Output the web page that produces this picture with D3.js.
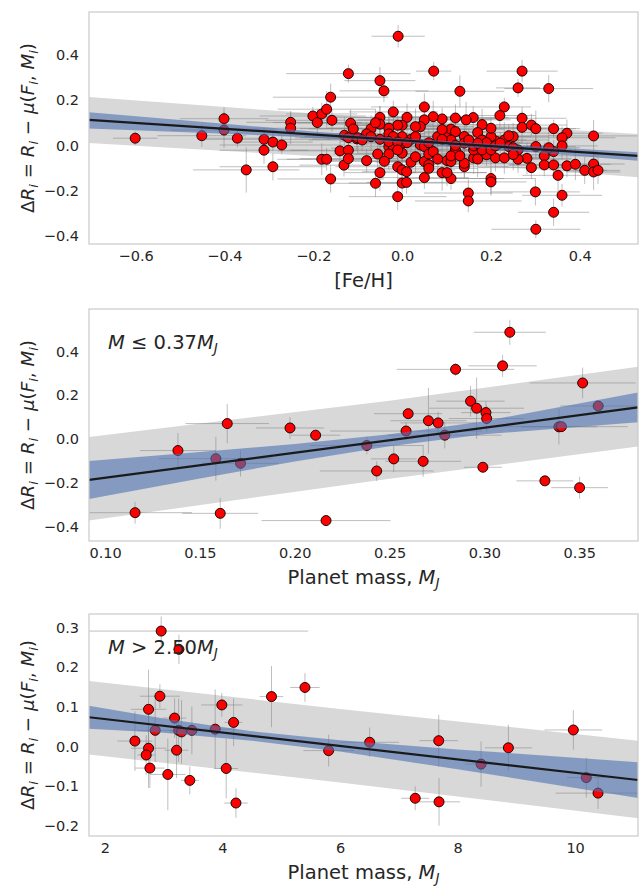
<!DOCTYPE html>
<html><head><meta charset="utf-8">
<script src="https://cdn.jsdelivr.net/npm/d3@7/dist/d3.min.js"></script>
<style>body{margin:0;background:#fff}svg{display:block;font-family:"DejaVu Sans",sans-serif}</style>
</head><body>
<script>
// ---------- Panel 1: [Fe/H] ----------
const fehX = [
-0.601,-0.451,-0.401,-0.401,-0.371,-0.351,-0.311,-0.311,-0.291,-0.291,
-0.271,-0.251,-0.251,-0.201,-0.191,-0.181,-0.170,-0.161,-0.158,-0.181,
-0.170,-0.161,-0.140,-0.131,-0.121,-0.116,-0.110,-0.130,-0.121,-0.102,
-0.121,-0.121,-0.009,0.071,-0.050,-0.041,0.130,0.270,0.261,0.330,
0.050,-0.020,0.230,0.220,0.270,0.270,0.291,0.301,0.341,0.371,
0.360,0.431,0.360,0.341,0.330,0.320,0.301,0.281,0.261,0.320,
0.341,0.371,0.390,0.411,0.431,0.431,0.441,0.291,0.351,0.300,
0.360,0.341,0.301,0.149,0.149,0.200,0.200,0.110,0.090,0.101,
0.050,-0.010,0.000,0.010,-0.060,-0.050,-0.080,-0.055,-0.010,0.000,
0.010,0.020,0.050,0.060,0.060,0.101,0.110,0.140,0.140,0.161,
0.190,0.210,0.230,0.261,0.230,0.250,0.240,0.210,0.200,0.200,
0.180,0.170,0.160,0.144,0.120,0.090,0.070,0.050,0.041,0.030,
0.011,0.000,-0.010,-0.030,-0.050,-0.050,-0.070,-0.080,-0.030,-0.030,
-0.020,0.000,0.000,0.020,0.041,0.050,0.060,0.070,0.080,0.101,
0.110,0.120,0.140,0.140,0.120,0.110,0.130,0.161,0.161,0.180,
0.180,0.190,0.170,0.150,0.110,0.090,0.030,0.000,-0.020,-0.050,
-0.070,-0.100,-0.090,-0.030,-0.010,0.011,0.060,-0.030,-0.010,0.240,
0.250,0.200,0.210,0.221,0.080,0.030,-0.040,0.120,0.170,0.090,
-0.060,0.250];
const fehY = [
0.032,0.043,0.118,0.068,0.032,-0.108,0.027,-0.021,0.015,-0.094,
0.002,0.102,0.076,0.130,0.101,0.139,0.160,0.213,0.111,-0.061,
-0.061,-0.148,-0.024,-0.087,0.317,0.098,0.073,0.045,0.034,0.029,
-0.021,-0.058,0.482,0.328,0.286,0.241,0.239,0.328,0.254,0.251,
0.170,0.148,0.170,0.132,0.120,0.080,0.090,0.074,0.074,0.054,
0.034,0.042,-0.002,-0.027,-0.010,-0.046,-0.005,-0.057,-0.061,-0.086,
-0.086,-0.090,-0.083,-0.110,-0.082,-0.117,-0.110,-0.098,-0.132,-0.205,
-0.220,-0.295,-0.370,-0.210,-0.245,-0.146,-0.161,-0.146,-0.120,-0.120,
-0.142,-0.226,-0.166,-0.163,-0.167,-0.120,-0.067,-0.038,-0.094,-0.108,
-0.116,-0.074,-0.071,-0.085,-0.101,-0.067,-0.071,-0.094,-0.079,-0.055,
-0.041,-0.055,-0.055,-0.020,0.024,0.039,0.043,0.020,0.039,0.076,
0.092,0.057,0.123,0.113,0.121,0.117,0.127,0.113,0.083,0.083,
0.124,0.089,0.089,0.076,0.124,0.094,0.074,0.051,0.051,-0.005,
-0.012,0.010,-0.034,0.027,0.002,-0.005,-0.038,-0.027,0.039,0.042,
0.072,0.061,0.039,0.010,-0.020,-0.046,-0.046,-0.020,-0.002,-0.020,
0.024,0.012,0.010,0.024,0.024,0.027,0.039,0.039,0.039,0.027,
0.039,0.034,0.024,0.017,0.015,0.012,0.012,-0.038,-0.020,-0.005,
-0.010,-0.020,-0.002,0.010,-0.060,-0.050,-0.070,0.000,-0.060,0.070,
0.100,-0.040];
const fehXErr = [
0.05,0.10,0.10,0.12,0.08,0.12,0.15,0.10,0.09,0.12,
0.14,0.10,0.16,0.12,0.10,0.08,0.11,0.13,0.15,0.10,
0.09,0.12,0.14,0.10,0.14,0.12,0.10,0.15,0.12,0.10,
0.13,0.11,0.06,0.04,0.08,0.10,0.10,0.08,0.05,0.10,
0.12,0.10,0.06,0.08,0.10,0.06,0.08,0.10,0.05,0.08,
0.12,0.10,0.08,0.10,0.07,0.12,0.09,0.10,0.12,0.08,
0.10,0.06,0.08,0.05,0.07,0.06,0.05,0.12,0.08,0.10,
0.09,0.08,0.10,0.10,0.12,0.10,0.08,0.12,0.10,0.09,
0.10,0.11,0.12,0.09,0.10,0.08,0.11,0.10,0.14,0.12,
0.10,0.08,0.12,0.10,0.11,0.13,0.09,0.10,0.12,0.08,
0.10,0.11,0.09,0.12,0.10,0.08,0.12,0.10,0.09,0.11,
0.10,0.12,0.08,0.10,0.14,0.12,0.10,0.15,0.12,0.10,
0.13,0.11,0.12,0.14,0.10,0.12,0.16,0.13,0.12,0.10,
0.14,0.12,0.10,0.11,0.13,0.10,0.12,0.09,0.11,0.10,
0.12,0.08,0.10,0.12,0.11,0.10,0.09,0.12,0.10,0.11,
0.10,0.08,0.12,0.10,0.13,0.11,0.12,0.14,0.10,0.12,
0.15,0.13,0.12,0.11,0.10,0.12,0.09,0.11,0.10,0.09,
0.10,0.08,0.11,0.09,0.12,0.10,0.13,0.11,0.09,0.12,
0.14,0.10];
const fehYErr = [
0.03,0.05,0.05,0.08,0.04,0.10,0.05,0.06,0.04,0.06,
0.04,0.05,0.07,0.04,0.06,0.05,0.08,0.06,0.05,0.07,
0.05,0.06,0.07,0.05,0.04,0.06,0.05,0.08,0.06,0.05,
0.07,0.05,0.05,0.04,0.06,0.05,0.07,0.05,0.04,0.06,
0.06,0.05,0.04,0.06,0.05,0.07,0.05,0.08,0.04,0.06,
0.05,0.07,0.06,0.05,0.08,0.06,0.05,0.07,0.06,0.05,
0.06,0.05,0.07,0.06,0.05,0.08,0.06,0.05,0.07,0.06,
0.05,0.06,0.04,0.06,0.05,0.07,0.06,0.05,0.08,0.06,
0.05,0.06,0.07,0.05,0.06,0.08,0.05,0.06,0.07,0.05,
0.06,0.05,0.07,0.06,0.05,0.06,0.08,0.05,0.06,0.07,
0.05,0.06,0.07,0.05,0.08,0.06,0.05,0.07,0.06,0.05,
0.07,0.06,0.05,0.08,0.06,0.05,0.07,0.06,0.05,0.08,
0.06,0.05,0.07,0.06,0.05,0.08,0.06,0.05,0.07,0.06,
0.05,0.07,0.06,0.05,0.08,0.06,0.05,0.07,0.06,0.05,
0.06,0.05,0.07,0.06,0.05,0.08,0.06,0.05,0.07,0.06,
0.05,0.06,0.07,0.05,0.06,0.08,0.05,0.06,0.07,0.05,
0.06,0.07,0.05,0.06,0.08,0.05,0.06,0.07,0.05,0.06,
0.05,0.06,0.07,0.05,0.06,0.07,0.05,0.06,0.08,0.05,
0.06,0.07];
const fehFitX = [-0.705, 0.531];
const fehFitY = [0.113, -0.046];
const fehBlueX = [-0.705, -0.4, -0.2, 0.0, 0.2, 0.531];
const fehBlueLo = [0.075, 0.052, 0.034, 0.012, -0.016, -0.068];
const fehBlueHi = [0.147, 0.096, 0.062, 0.032, 0.008, -0.030];
const fehGrayX = [-0.705, -0.3, 0.0, 0.3, 0.531];
const fehGrayLo = [0.011, -0.035, -0.070, -0.105, -0.140];
const fehGrayHi = [0.214, 0.155, 0.115, 0.078, 0.051];
const fehXTicks = [-0.6, -0.4, -0.2, 0.0, 0.2, 0.4];
const fehYTicks = [-0.4, -0.2, 0.0, 0.2, 0.4];

// ---------- Panel 2: low mass ----------
const lowX = [0.1158,0.1384,0.1584,0.1607,0.1644,0.1714,0.1975,0.211,0.2165,0.238,
0.2432,0.2522,0.2587,0.2598,0.2677,0.2705,0.2756,0.2791,0.2848,0.2927,
0.2959,0.2992,0.3008,0.3012,0.3096,0.3134,0.3319,0.3393,0.3406,0.3502,
0.3518,0.36];
const lowY = [-0.335,-0.052,-0.089,-0.338,0.071,-0.110,0.051,0.018,-0.371,-0.029,
-0.145,-0.090,0.037,0.116,-0.101,0.084,0.074,0.018,0.318,0.173,
0.141,-0.128,0.121,0.094,0.334,0.487,-0.190,0.056,0.057,-0.221,
0.256,0.151];
const lowXErr = [0.03,0.02,0.03,0.02,0.022,0.02,0.018,0.013,0.034,0.03,
0.03,0.012,0.04,0.018,0.02,0.02,0.02,0.03,0.031,0.018,
0.025,0.01,0.013,0.02,0.018,0.019,0.015,0.02,0.035,0.015,
0.028,0.02];
const lowYErr = [0.05,0.08,0.1,0.07,0.09,0.06,0.05,0.02,0.02,0.04,
0.045,0.06,0.04,0.02,0.07,0.15,0.05,0.06,0.03,0.07,
0.14,0.02,0.05,0.06,0.05,0.057,0.02,0.08,0.02,0.05,
0.07,0.02];
const lowFitX = [0.0915, 0.381];
const lowFitY = [-0.186, 0.145];
const lowBlueX = [0.0915, 0.15, 0.2, 0.25, 0.3, 0.381];
const lowBlueLo = [-0.273, -0.179, -0.102, -0.032, 0.022, 0.077];
const lowBlueHi = [-0.099, -0.059, -0.022, 0.022, 0.082, 0.213];
const lowGrayX = [0.0915, 0.25, 0.381];
const lowGrayLo = [-0.371, -0.180, -0.034];
const lowGrayHi = [0.010, 0.175, 0.330];
const lowXTicks = [0.10, 0.15, 0.20, 0.25, 0.30, 0.35];
const lowYTicks = [-0.4, -0.2, 0.0, 0.2, 0.4];

// ---------- Panel 3: high mass ----------
const highX = [2.958,3.26,2.936,2.743,2.511,2.743,2.703,2.766,2.856,3.071,
3.186,3.22,3.255,3.304,3.48,3.445,3.877,3.99,4.064,4.19,
4.23,4.835,5.404,5.807,6.505,7.68,7.28,7.685,8.40,8.865,
9.97,10.19,10.39];
const highY = [0.291,0.245,0.127,0.094,0.014,-0.004,-0.021,-0.054,0.041,-0.070,
0.072,-0.009,0.041,0.037,0.041,-0.085,0.044,0.105,-0.055,0.061,
-0.142,0.126,0.149,-0.010,0.011,0.015,-0.130,-0.139,-0.044,-0.003,
0.042,-0.078,-0.117];
const highXErr = [2.5,0.1,0.34,0.3,0.3,0.3,0.15,0.25,0.3,0.3,
0.2,0.2,0.15,0.2,0.25,0.15,0.35,0.35,0.2,0.15,
0.2,0.2,0.25,0.43,0.5,0.33,0.24,0.36,0.28,0.4,
0.49,0.33,0.72];
const highYErr = [0.037,0.037,0.03,0.1,0.075,0.1,0.05,0.05,0.08,0.09,
0.05,0.07,0.08,0.08,0.06,0.035,0.1,0.03,0.075,0.06,
0.037,0.077,0.036,0.04,0.037,0.065,0.03,0.06,0.057,0.058,
0.05,0.05,0.04];
const highFitX = [1.73, 11.07];
const highFitY = [0.074, -0.084];
const highBlueX = [1.73, 3, 4.5, 6, 8, 11.07];
const highBlueLo = [0.045, 0.035, 0.015, -0.012, -0.057, -0.129];
const highBlueHi = [0.103, 0.071, 0.039, 0.016, -0.007, -0.039];
const highGrayX = [1.73, 6, 11.07];
const highGrayLo = [-0.020, -0.090, -0.180];
const highGrayHi = [0.165, 0.095, 0.015];
const highXTicks = [2, 4, 6, 8, 10];
const highYTicks = [-0.2, -0.1, 0.0, 0.1, 0.2, 0.3];

// ---------- Drawing ----------
const W = 640, H = 886;
const TXT = "#262626";
const svg = d3.select("body").append("svg").attr("width", W).attr("height", H);

const yLabelParts = [["Δ","n"],["R","i"],["i","s"],[" = ","n"],["R","i"],["i","s"],[" − ","n"],
  ["μ","i"],["(","n"],["F","i"],["i","s"],[", ","n"],["M","i"],["i","s"],[")","n"]];

function mathText(g, parts, size) {
  let shifted = false;
  parts.forEach(([t, s]) => {
    const ts = g.append("tspan").text(t);
    if (s === "i" || s === "s") ts.attr("font-style", "italic");
    if (s === "s") {
      ts.attr("font-size", size * 0.7).attr("dy", size * 0.22);
      shifted = true;
    } else {
      ts.attr("font-size", size);
      if (shifted) { ts.attr("dy", -size * 0.22); shifted = false; }
    }
  });
}

let clipId = 0;
function panel(cfg) {
  const {top, bottom, xDom, yDom, xs, ys, xe, ye, fitX, fitY, blueX, blueLo, blueHi,
         grayX, grayLo, grayHi, xTicks, yTicks, xFmt, yFmt, xLabel, note} = cfg;
  const left = 89, right = 638;
  const x = d3.scaleLinear().domain(xDom).range([left, right]);
  const y = d3.scaleLinear().domain(yDom).range([bottom, top]);
  const id = "clip" + (clipId++);
  svg.append("clipPath").attr("id", id).append("rect")
    .attr("x", left).attr("y", top).attr("width", right - left).attr("height", bottom - top);
  const g = svg.append("g").attr("clip-path", `url(#${id})`);

  const area = d3.area().x(d => x(d[0])).y0(d => y(d[1])).y1(d => y(d[2]));
  g.append("path").datum(grayX.map((v, i) => [v, grayLo[i], grayHi[i]]))
    .attr("d", area).attr("fill", "#d8d8d8");

  const pts = xs.map((v, i) => ({x: v, y: ys[i], xe: xe[i], ye: ye[i]}));
  const eb = g.append("g").attr("stroke", "#808080").attr("stroke-opacity", 0.5).attr("stroke-width", 1);
  eb.selectAll("line.h").data(pts).join("line").attr("class", "h")
    .attr("x1", d => x(d.x - d.xe)).attr("x2", d => x(d.x + d.xe))
    .attr("y1", d => y(d.y)).attr("y2", d => y(d.y));
  eb.selectAll("line.v").data(pts).join("line").attr("class", "v")
    .attr("x1", d => x(d.x)).attr("x2", d => x(d.x))
    .attr("y1", d => y(d.y - d.ye)).attr("y2", d => y(d.y + d.ye));

  g.append("g").selectAll("circle").data(pts).join("circle")
    .attr("cx", d => x(d.x)).attr("cy", d => y(d.y)).attr("r", 5)
    .attr("fill", "#ff0000").attr("stroke", "#000").attr("stroke-width", 0.9);

  g.append("path").datum(blueX.map((v, i) => [v, blueLo[i], blueHi[i]]))
    .attr("d", area).attr("fill", "#4c72b0").attr("fill-opacity", 0.6);

  g.append("path").datum(fitX.map((v, i) => [v, fitY[i]]))
    .attr("d", d3.line().x(d => x(d[0])).y(d => y(d[1])))
    .attr("stroke", "#1a1a1a").attr("stroke-width", 2.2).attr("fill", "none");

  svg.append("rect").attr("x", left).attr("y", top).attr("width", right - left)
    .attr("height", bottom - top).attr("fill", "none").attr("stroke", "#cccccc").attr("stroke-width", 1.25);

  // axes (no tick marks, seaborn whitegrid style)
  const xa = svg.append("g").attr("transform", `translate(0,${bottom})`)
    .call(d3.axisBottom(x).tickValues(xTicks).tickFormat(xFmt).tickSize(0).tickPadding(7));
  const ya = svg.append("g").attr("transform", `translate(${left},0)`)
    .call(d3.axisLeft(y).tickValues(yTicks).tickFormat(yFmt).tickSize(0).tickPadding(10));
  [xa, ya].forEach(a => {
    a.select(".domain").remove();
    a.selectAll("text").attr("font-size", 14.5).attr("fill", TXT).attr("font-family", '"DejaVu Sans"');
  });

  const xl = svg.append("text").attr("x", (left + right) / 2).attr("y", bottom + 43)
    .attr("text-anchor", "middle").attr("fill", TXT);
  mathText(xl, xLabel, 19.5);

  const yl = svg.append("text").attr("text-anchor", "middle").attr("fill", TXT)
    .attr("transform", `translate(34,${(top + bottom) / 2}) rotate(-90)`);
  mathText(yl, yLabelParts, 18.3);

  if (note) {
    const nt = svg.append("text").attr("x", 108).attr("y", top + 40).attr("fill", TXT);
    mathText(nt, note, 19.5);
  }
}

const f1 = d3.format(".1f"), f2 = d3.format(".2f"), f0 = d3.format("d");

panel({top: 12, bottom: 244, xDom: [-0.705, 0.531], yDom: [-0.435, 0.589],
  xs: fehX, ys: fehY, xe: fehXErr, ye: fehYErr, fitX: fehFitX, fitY: fehFitY,
  blueX: fehBlueX, blueLo: fehBlueLo, blueHi: fehBlueHi,
  grayX: fehGrayX, grayLo: fehGrayLo, grayHi: fehGrayHi,
  xTicks: fehXTicks, yTicks: fehYTicks, xFmt: f1, yFmt: f1,
  xLabel: [["[Fe/H]", "n"]]});

panel({top: 309, bottom: 541, xDom: [0.0915, 0.381], yDom: [-0.464, 0.593],
  xs: lowX, ys: lowY, xe: lowXErr, ye: lowYErr, fitX: lowFitX, fitY: lowFitY,
  blueX: lowBlueX, blueLo: lowBlueLo, blueHi: lowBlueHi,
  grayX: lowGrayX, grayLo: lowGrayLo, grayHi: lowGrayHi,
  xTicks: lowXTicks, yTicks: lowYTicks, xFmt: f2, yFmt: f1,
  xLabel: [["Planet mass, ", "n"], ["M", "i"], ["J", "s"]],
  note: [["M", "i"], [" ≤ 0.37", "n"], ["M", "i"], ["J", "s"]]});

panel({top: 614, bottom: 836, xDom: [1.73, 11.07], yDom: [-0.225, 0.334],
  xs: highX, ys: highY, xe: highXErr, ye: highYErr, fitX: highFitX, fitY: highFitY,
  blueX: highBlueX, blueLo: highBlueLo, blueHi: highBlueHi,
  grayX: highGrayX, grayLo: highGrayLo, grayHi: highGrayHi,
  xTicks: highXTicks, yTicks: highYTicks, xFmt: f0, yFmt: f1,
  xLabel: [["Planet mass, ", "n"], ["M", "i"], ["J", "s"]],
  note: [["M", "i"], [" > 2.50", "n"], ["M", "i"], ["J", "s"]]});
</script>
</body></html>
